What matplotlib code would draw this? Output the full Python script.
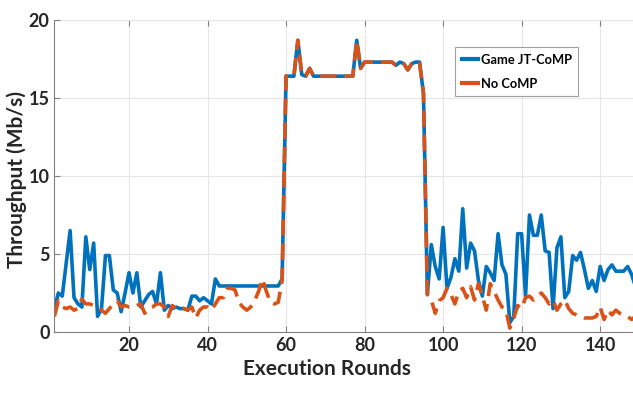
import matplotlib

matplotlib.use("Agg")
import matplotlib.pyplot as plt

plt.rcParams["font.family"] = ["Lato", "DejaVu Sans"]

rounds = list(range(1, 150))

# rounds 1..59
jt_low = [1.5, 2.5, 2.3, 4.4, 6.5, 2.2, 1.8, 1.6, 6.1, 4.0,
          5.7, 1.0, 1.5, 4.9, 4.9, 2.7, 2.5, 1.3, 2.5, 3.8,
          2.5, 3.8, 1.6, 2.0, 2.4, 2.6, 1.8, 3.8, 1.4, 1.7,
          1.5, 1.6, 1.5, 1.5, 1.4, 2.3, 2.3, 2.0, 2.2, 2.0,
          1.8, 3.4, 2.95, 2.95, 2.95, 2.95, 2.95, 2.95, 2.95, 2.95,
          2.95, 2.95, 2.95, 2.95, 2.95, 2.95, 2.95, 2.95, 3.4]
nocomp_low = [1.0, 2.0, 1.6, 1.5, 1.6, 1.4, 1.5, 2.1, 1.8, 1.8,
              1.7, 1.6, 1.4, 1.2, 1.5, 1.8, 2.0, 1.6, 1.7, 1.6,
              1.6, 1.7, 1.8, 1.2, 1.5, 1.6, 1.8, 1.8, 1.6, 1.0,
              1.7, 1.5, 1.6, 1.5, 1.4, 1.6, 0.9, 1.4, 1.6, 1.6,
              1.4, 1.8, 2.2, 2.2, 2.8, 2.8, 2.7, 1.9, 1.6, 1.4,
              1.6, 2.0, 2.6, 3.4, 2.6, 1.9, 1.8, 1.9, 3.3]

# rounds 60..95, both schemes give the same throughput
shared_peak = [16.4, 16.4, 16.4, 18.7, 16.5, 16.4, 16.9, 16.4, 16.4, 16.4,
               16.4, 16.4, 16.4, 16.4, 16.4, 16.4, 16.4, 16.4, 18.7, 16.9,
               17.3, 17.3, 17.3, 17.3, 17.3, 17.3, 17.3, 17.3, 17.1, 17.3,
               17.2, 16.8, 17.2, 17.3, 17.3, 15.3]

# rounds 96..149
jt_high = [2.4, 5.6, 4.2, 3.4, 6.7, 2.8, 3.5, 4.7, 3.9, 7.9,
           4.1, 5.7, 5.2, 3.3, 2.3, 4.2, 3.8, 3.3, 6.3, 4.3,
           3.7, 0.6, 1.0, 6.3, 6.3, 2.3, 7.5, 6.2, 6.2, 7.5,
           5.2, 5.1, 1.5, 5.4, 6.1, 2.2, 2.6, 4.9, 4.6, 5.1,
           4.0, 2.8, 3.3, 2.6, 4.2, 3.3, 4.0, 4.3, 3.9, 3.9,
           3.9, 4.2, 3.7, 2.9]
nocomp_high = [2.4, 2.05, 1.2, 2.0, 2.2, 2.8, 2.4, 1.8, 2.6, 2.8,
               2.2, 2.9, 2.05, 3.1, 2.3, 1.4, 3.1, 2.6, 2.05, 1.6,
               1.4, 0.25, 0.9, 1.7, 1.5, 2.2, 2.3, 2.05, 2.3, 2.5,
               2.2, 1.8, 2.05, 1.4, 1.8, 2.05, 1.5, 1.2, 1.1, 1.0,
               0.9, 0.9, 0.9, 1.0, 1.6, 0.8, 1.4, 1.1, 1.4, 1.2,
               1.1, 1.0, 0.8, 1.0]

game_jt = jt_low + shared_peak + jt_high
no_comp = nocomp_low + shared_peak + nocomp_high

BLUE = "#0072BD"
ORANGE = "#D95319"

fig = plt.figure(figsize=(6.33, 3.93), dpi=100)
ax = fig.add_axes([54.4 / 633, 61 / 393, 585 / 633, 312 / 393])

ax.plot(rounds, game_jt, color=BLUE, lw=2.6, label="Game JT-CoMP")
ax.plot(rounds, no_comp, color=ORANGE, lw=2.6, ls=(0, (4.5, 2.2)), label="No CoMP")

ax.set_xlim(1, 150)
ax.set_ylim(0, 20)
ax.set_xticks(range(20, 150, 20))
ax.set_yticks(range(0, 21, 5))
ax.grid(True, color="#e6e6e6", lw=0.8)
ax.set_axisbelow(True)
ax.tick_params(direction="in", length=4, color="#808080", labelsize=13,
               labelcolor="#262626", top=True, right=True)
for lab in ax.get_xticklabels() + ax.get_yticklabels():
    lab.set_fontweight("bold")
for side in ("left", "bottom"):
    ax.spines[side].set_color("#808080")
ax.spines["top"].set_visible(False)
ax.spines["right"].set_visible(False)

ax.set_xlabel("Execution Rounds", fontsize=15, fontweight="bold", color="#262626")
ax.set_ylabel("Throughput (Mb/s)", fontsize=15, fontweight="bold", color="#262626")
ax.xaxis.set_label_coords(0.466, -0.085)
ax.yaxis.set_label_coords(-0.046, 0.49)

leg = ax.legend(loc="upper left", bbox_to_anchor=(0.685, 0.912), fontsize=9.3,
                handlelength=1.3, handletextpad=0.2, borderpad=0.5,
                labelspacing=0.9, fancybox=False, framealpha=1,
                borderaxespad=0)
leg.get_frame().set_edgecolor("#a0a0a0")
leg.get_frame().set_linewidth(0.8)
for t in leg.get_texts():
    t.set_fontweight("bold")
for h in leg.get_lines():
    h.set_linestyle("-")
    h.set_linewidth(3)

fig.savefig("out.png", dpi=100)
